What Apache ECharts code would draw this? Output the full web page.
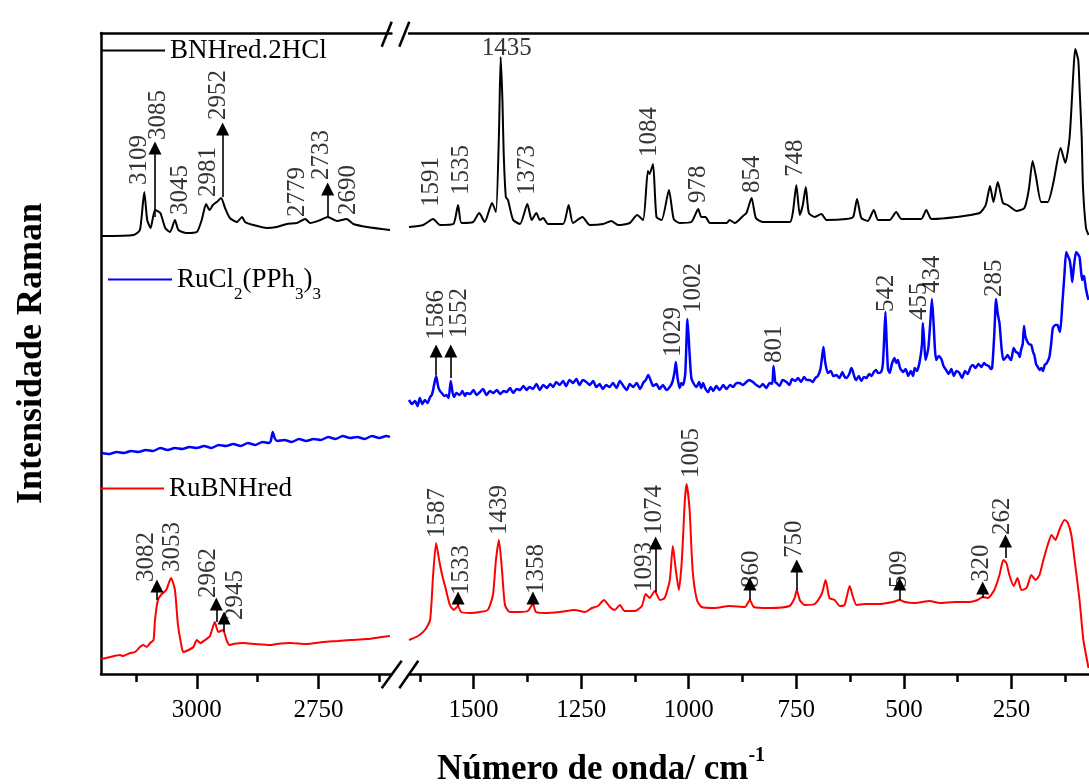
<!DOCTYPE html>
<html><head><meta charset="utf-8">
<script src="https://cdn.jsdelivr.net/npm/echarts@6/dist/echarts.min.js"></script>
<style>html,body{margin:0;padding:0;background:#fff}#c{width:1089px;height:784px}</style>
</head><body><div id="c"></div>
<script>
const FONT = 'Liberation Serif, Times New Roman, serif';
const names = ['BNHred.2HCl', 'RuCl2(PPh3)3', 'RuBNHred'];
const colors = ['#000000', '#0000ff', '#ff0000'];

const leftMajorTicks = [3000, 2750];
const leftMinorTicks = [3125, 2875, 2625];
const rightMajorTicks = [1500, 1250, 1000, 750, 500, 250];
const rightMinorTicks = [1625, 1375, 1125, 875, 625, 375, 125];

const blackLeft = [[3195,438],[3130,439],[3117,444],[3108,482],[3102,454],[3095,446],[3086,464],[3075,461],[3065,446],[3055,442],[3045,454],[3038,444],[3021,441],[3000,442],[2990,454],[2981,470],[2974,464],[2967,469],[2959,472],[2950,476],[2942,466],[2932,456],[2918,452],[2907,457],[2901,452],[2884,449],[2856,446],[2836,447],[2815,450],[2794,451],[2777,455],[2767,451],[2746,454],[2731,457],[2712,453],[2692,455],[2678,450],[2650,447],[2603,444]];
const blueLeft = [[3195,221],[3180,220],[3165,222],[3150,221],[3135,223],[3120,222],[3105,224],[3090,223],[3075,226],[3060,224],[3045,226],[3030,225],[3015,227],[3000,226],[2985,228],[2970,226],[2955,229],[2940,228],[2925,230],[2910,228],[2895,231],[2880,229],[2865,232],[2852,231],[2848,233],[2844,242],[2840,236],[2835,233],[2820,234],[2805,232],[2790,235],[2775,233],[2760,235],[2745,234],[2730,237],[2715,235],[2700,238],[2685,236],[2670,237],[2655,235],[2640,238],[2625,236],[2610,238],[2603,237]];
const redLeft = [[3196,15],[3178,17],[3158,19],[3152,18],[3137,21],[3127,22],[3117,27],[3110,29],[3103,27],[3096,31],[3089,34],[3086,54],[3080,74],[3072,80],[3063,84],[3053,96],[3045,84],[3039,50],[3033,32],[3028,22],[3017,24],[3007,27],[3000,34],[2993,31],[2983,34],[2973,38],[2963,52],[2956,42],[2946,44],[2939,34],[2933,29],[2925,30],[2904,31],[2880,30],[2850,29],[2836,30],[2808,31],[2775,30],[2740,32],[2710,33],[2685,34],[2650,35],[2620,37],[2603,38]];

const blackRight = [[1650,447],[1617,449],[1594,455],[1578,449],[1547,450],[1536,469],[1528,451],[1501,452],[1487,461],[1474,452],[1457,471],[1448,462],[1441,540],[1437,617],[1433,575],[1430,521],[1425,477],[1420,474],[1408,454],[1392,450],[1375,470],[1365,454],[1354,461],[1346,454],[1338,456],[1327,450],[1292,450],[1279,469],[1269,451],[1247,457],[1230,449],[1199,450],[1180,453],[1164,449],[1137,451],[1120,459],[1106,454],[1095,503],[1091,500],[1083,510],[1075,457],[1063,454],[1046,484],[1035,455],[1021,451],[994,452],[978,465],[971,457],[961,457],[951,451],[912,451],[905,454],[893,451],[874,458],[866,461],[854,476],[844,456],[827,452],[765,452],[758,462],[750,489],[742,459],[735,469],[728,487],[721,461],[707,457],[692,460],[680,454],[634,455],[618,457],[609,475],[599,456],[584,453],[570,464],[560,454],[533,454],[518,462],[506,455],[460,455],[448,464],[436,455],[378,457],[324,461],[310,469],[300,488],[292,472],[282,492],[270,471],[259,469],[239,463],[220,466],[210,484],[201,513],[193,497],[181,472],[166,472],[153,491],[136,526],[125,511],[115,537],[106,604],[102,625],[95,614],[92,587],[87,537],[84,487],[77,446],[71,439]];
const blueRight = [[1650,274],[1643,270],[1636,273],[1630,268],[1625,276],[1619,270],[1613,274],[1607,271],[1601,277],[1597,279],[1594,284],[1587,298],[1582,287],[1578,283],[1574,281],[1568,278],[1563,279],[1558,276],[1553,293],[1549,282],[1545,277],[1540,281],[1532,279],[1526,283],[1520,278],[1516,281],[1508,280],[1500,284],[1493,279],[1485,282],[1478,285],[1470,279],[1462,283],[1454,281],[1446,284],[1438,280],[1430,283],[1423,282],[1415,286],[1408,281],[1400,285],[1392,284],[1384,288],[1377,284],[1370,287],[1362,285],[1354,290],[1346,284],[1338,289],[1330,286],[1322,290],[1315,287],[1308,292],[1300,289],[1292,293],[1285,288],[1277,294],[1269,291],[1261,295],[1254,289],[1246,294],[1238,292],[1230,289],[1222,293],[1215,287],[1207,290],[1200,285],[1192,289],[1184,287],[1176,291],[1168,286],[1160,293],[1152,288],[1144,284],[1137,290],[1129,287],[1121,291],[1113,285],[1106,291],[1100,294],[1094,299],[1088,293],[1083,288],[1075,290],[1068,285],[1060,289],[1052,284],[1044,287],[1038,292],[1033,302],[1030,312],[1026,296],[1021,286],[1017,291],[1013,289],[1008,301],[1003,355],[998,320],[994,296],[988,290],[982,287],[976,292],[971,286],[967,291],[961,285],[955,282],[949,287],[943,283],[936,288],[928,284],[920,289],[912,285],[904,289],[897,287],[889,291],[882,291],[874,289],[866,292],[860,294],[851,292],[843,289],[835,287],[828,290],[820,286],[812,291],[806,290],[803,308],[799,292],[796,291],[789,288],[782,294],[773,292],[766,289],[760,295],[753,293],[746,296],[739,292],[732,297],[726,294],[719,294],[712,292],[706,296],[700,298],[694,305],[690,318],[687,327],[683,312],[677,301],[670,303],[664,298],[657,299],[650,296],[643,302],[639,298],[634,296],[627,300],[622,306],[619,303],[615,297],[611,294],[605,298],[599,293],[593,297],[587,296],[581,300],[575,298],[570,302],[565,304],[560,301],[553,302],[549,310],[546,335],[543,362],[540,330],[537,305],[533,301],[528,310],[522,316],[518,311],[514,314],[509,306],[502,302],[496,305],[490,298],[484,303],[479,298],[475,306],[470,303],[464,311],[458,330],[456,351],[453,333],[450,314],[446,320],[443,327],[439,350],[435,375],[431,350],[428,325],[425,314],[419,318],[413,315],[408,308],[402,304],[396,300],[390,305],[384,298],[378,303],[371,301],[365,296],[358,303],[352,300],[345,307],[340,309],[334,306],[327,310],[320,307],[314,311],[309,309],[303,308],[298,305],[295,306],[290,340],[286,375],[282,360],[278,351],[273,325],[269,314],[264,316],[259,319],[255,316],[251,314],[248,320],[245,326],[240,322],[235,321],[231,317],[228,324],[224,330],[221,348],[218,338],[215,334],[210,330],[204,329],[200,322],[197,319],[193,310],[189,307],[185,304],[181,306],[177,303],[173,309],[168,311],[162,317],[158,330],[154,346],[148,349],[143,349],[140,345],[137,342],[132,370],[127,400],[123,422],[119,418],[115,414],[112,405],[109,392],[105,408],[100,422],[96,420],[92,417],[89,405],[86,394],[83,398],[81,397],[77,385],[73,377],[71,374]];
const redRight = [[1650,34],[1629,38],[1613,44],[1601,54],[1594,99],[1587,131],[1580,114],[1573,99],[1564,84],[1555,69],[1546,64],[1536,68],[1529,62],[1508,61],[1485,62],[1467,64],[1455,79],[1448,114],[1441,134],[1434,104],[1427,69],[1416,62],[1392,62],[1374,63],[1362,70],[1355,62],[1334,61],[1300,62],[1265,64],[1241,62],[1225,66],[1211,68],[1197,74],[1183,67],[1172,64],[1160,69],[1149,63],[1125,63],[1109,68],[1100,80],[1091,76],[1079,83],[1067,74],[1056,76],[1044,94],[1037,128],[1030,104],[1023,84],[1016,114],[1009,174],[1005,190],[998,164],[991,104],[981,74],[970,67],[940,66],[905,68],[870,67],[858,74],[849,67],[812,66],[766,68],[754,76],[749,84],[742,74],[731,69],[707,70],[691,80],[682,94],[673,76],[661,74],[649,68],[638,69],[626,88],[619,78],[610,69],[591,70],[557,70],[526,72],[510,74],[498,72],[475,71],[440,73],[417,71],[382,72],[348,72],[329,74],[317,77],[305,76],[290,84],[278,99],[269,114],[262,111],[255,99],[245,88],[236,96],[227,84],[215,86],[204,99],[194,94],[185,99],[176,114],[166,129],[157,139],[148,134],[139,144],[127,154],[120,152],[111,139],[102,109],[92,74],[83,34],[71,6]];

// peak labels: [wavenumber position, bottom of text, text]
const leftLabels = [[3117,489,'3109'],[3079,534,'3085'],[3034,459,'3045'],[2976,477,'2981'],[2956,554,'2952'],[2794,457,'2779'],[2743,494,'2733'],[2688,459,'2690'],
  [3104,92,'3082'],[3051,102,'3053'],[2977,76,'2962'],[2921,54,'2945']];
const rightLabels = [[1597,467,'1591'],[1529,479,'1535'],[1375,479,'1373'],[1091,517,'1084'],[978,471,'978'],[851,481,'854'],[752,497,'748'],
  [1586,334,'1586'],[1532,336,'1552'],[1036,317,'1029'],[990,361,'1002'],[800,311,'801'],[541,362,'542'],[464,354,'455'],[433,381,'434'],[289,377,'285'],
  [1585,136,'1587'],[1527,79,'1533'],[1439,139,'1439'],[1353,80,'1358'],[1102,82,'1093'],[1079,139,'1074'],[993,196,'1005'],[854,86,'860'],[754,116,'750'],[510,86,'509'],[320,92,'320'],[271,139,'262']];
const rightFlatLabels = [[1423,626,'1435']];
// arrows: [position, start, end]
const leftArrows = [[3086,457,526],[2947,477,545],[2731,457,485],[3082,74,88],[2960,52,70],[2944,42,56]];
const rightArrows = [[1587,299,323],[1553,296,323],[1536,68,76],[1362,70,76],[1077,82,131],[858,74,90],[749,84,108],[510,74,90],[317,76,86],[264,116,133]];

const chart = echarts.init(document.getElementById('c'), null, {renderer: 'canvas'});
const AX = {color: '#000', width: 2.5};

function lineSeries(name, color, data, xi, yi, w) {
  return {type: 'line', name, data, xAxisIndex: xi, yAxisIndex: yi, symbol: 'none', showSymbol: false,
    smooth: 0.2, silent: true, lineStyle: {color, width: w}, itemStyle: {color}, z: 3};
}
function annot(labels, flat, arrows, xi, yi) {
  return {
    type: 'scatter', xAxisIndex: xi, yAxisIndex: yi, silent: true, z: 6,
    symbol: 'circle', symbolSize: 1, itemStyle: {color: 'rgba(0,0,0,0)'},
    label: {show: true, position: 'inside', rotate: 90, align: 'left', verticalAlign: 'middle',
      formatter: p => p.value[2], fontFamily: FONT, fontSize: 25, color: '#000'},
    data: labels.map(l => ({value: l})).concat(flat.map(l => ({value: l, label: {rotate: 0, align: 'center', verticalAlign: 'middle'}}))),
    markLine: {silent: true, animation: false, symbol: ['none', 'triangle'], symbolSize: 13,
      label: {show: false}, lineStyle: {color: '#000', width: 1.6, type: 'solid'},
      itemStyle: {color: '#000'},
      data: arrows.map(a => [{coord: [a[0], a[1]]}, {coord: [a[0], a[2]]}])}
  };
}
function xAxes(grid, min, max, major, minor) {
  return [
    {type: 'value', gridIndex: grid, position: 'bottom', min, max, inverse: true,
      axisLine: {show: true, onZero: false, lineStyle: AX},
      axisTick: {show: true, customValues: major, length: 15, inside: false, lineStyle: AX},
      axisLabel: {show: true, customValues: major, margin: 24, fontFamily: FONT, fontSize: 25, color: '#000',
        formatter: v => String(v)},
      splitLine: {show: false}},
    {type: 'value', gridIndex: grid, position: 'bottom', min, max, inverse: true,
      axisLine: {show: false, onZero: false},
      axisTick: {show: true, customValues: minor, length: 8, inside: false, lineStyle: AX},
      axisLabel: {show: false}, splitLine: {show: false}},
    {type: 'value', gridIndex: grid, position: 'top', min, max, inverse: true,
      axisLine: {show: true, onZero: false, lineStyle: AX},
      axisTick: {show: false}, axisLabel: {show: false}, splitLine: {show: false}}
  ];
}
const legendBase = {orient: 'horizontal', itemWidth: 64, itemHeight: 2, itemGap: 0, padding: 0, icon: 'rect',
  selectedMode: false, textStyle: {fontFamily: FONT, fontSize: 27, color: '#000'}};

chart.setOption({
  animation: false,
  backgroundColor: '#fff',
  textStyle: {fontFamily: FONT},
  grid: [
    {left: 101, top: 33, width: 290.4, height: 641, containLabel: false, outerBoundsMode: 'none'},
    {left: 409, top: 33, right: 0, height: 641, containLabel: false, outerBoundsMode: 'none'}
  ],
  xAxis: xAxes(0, 2600, 3197, leftMajorTicks, leftMinorTicks).concat(xAxes(1, 70, 1650, rightMajorTicks, rightMinorTicks)),
  yAxis: [
    {type: 'value', gridIndex: 0, min: 0, max: 641, position: 'left',
      name: 'Intensidade Raman', nameLocation: 'middle', nameGap: 51, nameRotate: 90,
      nameTextStyle: {fontFamily: FONT, fontWeight: 'bold', fontSize: 36, color: '#000'},
      axisLine: {show: true, onZero: false, lineStyle: AX}, axisTick: {show: false}, axisLabel: {show: false}, splitLine: {show: false}},
    {type: 'value', gridIndex: 1, min: 0, max: 641, show: false, splitLine: {show: false}}
  ],
  legend: [
    Object.assign({}, legendBase, {left: 101, top: 37, data: [names[0]]}),
    Object.assign({}, legendBase, {left: 108, top: 256, data: [names[1]],
      formatter: () => '{n|RuCl}{s|2}{n|(PPh}{s|3}{n|)}{s|3}',
      textStyle: {fontFamily: FONT, fontSize: 27, color: '#000',
        rich: {n: {fontFamily: FONT, fontSize: 27, lineHeight: 30, color: '#000'},
               s: {fontFamily: FONT, fontSize: 17, lineHeight: 17, padding: [30, 0, 0, 0], color: '#000'}}}}),
    Object.assign({}, legendBase, {left: 100, top: 475, data: [names[2]]})
  ],
  graphic: [
    {type: 'line', shape: {x1: 381.7, y1: 46.7, x2: 391.7, y2: 21.7}, style: {stroke: '#000', lineWidth: 2.5}, z: 100},
    {type: 'line', shape: {x1: 399.3, y1: 46.7, x2: 409.3, y2: 21.7}, style: {stroke: '#000', lineWidth: 2.5}, z: 100},
    {type: 'line', shape: {x1: 381.7, y1: 688.3, x2: 401.7, y2: 660.7}, style: {stroke: '#000', lineWidth: 2.5}, z: 100},
    {type: 'line', shape: {x1: 399.3, y1: 688.3, x2: 418.3, y2: 660.7}, style: {stroke: '#000', lineWidth: 2.5}, z: 100},
    {type: 'text', x: 437, y: 770, z: 100, style: {
      text: '{b|Número de onda/ cm}{p|-1}', align: 'left', verticalAlign: 'middle',
      rich: {b: {fontFamily: FONT, fontWeight: 'bold', fontSize: 35, lineHeight: 38, fill: '#000'},
             p: {fontFamily: FONT, fontWeight: 'bold', fontSize: 20, lineHeight: 20, padding: [0, 0, 28, 0], fill: '#000'}}}}
  ],
  series: [
    lineSeries(names[0], colors[0], blackLeft, 0, 0, 2),
    lineSeries(names[1], colors[1], blueLeft, 0, 0, 2.5),
    lineSeries(names[2], colors[2], redLeft, 0, 0, 2),
    lineSeries(names[0], colors[0], blackRight, 3, 1, 2),
    lineSeries(names[1], colors[1], blueRight, 3, 1, 2.5),
    lineSeries(names[2], colors[2], redRight, 3, 1, 2),
    annot(leftLabels, [], leftArrows, 0, 0),
    annot(rightLabels, rightFlatLabels, rightArrows, 3, 1)
  ]
});
</script>
</body></html>
